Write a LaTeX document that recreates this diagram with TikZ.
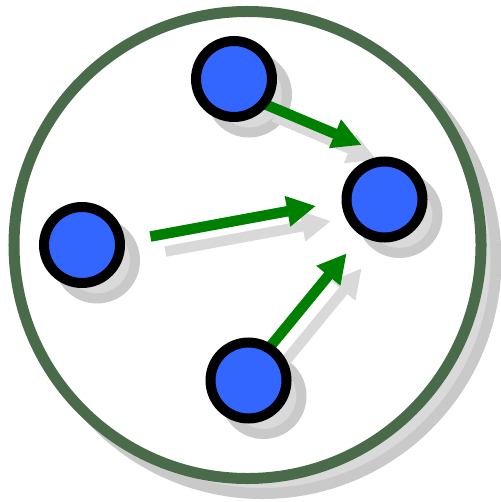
\documentclass[tikz,border=0pt]{standalone}
\usetikzlibrary{arrows.meta}
\definecolor{ringgreen}{HTML}{4A6B4A}
\definecolor{nodeblue}{HTML}{3366FF}
\definecolor{arrowgreen}{HTML}{008000}
\definecolor{shadowfill}{HTML}{D9D9D9}
\definecolor{shadowline}{HTML}{C9C9C9}
\pgfdeclarelayer{front}
\pgfsetlayers{main,front}
\begin{document}
\begin{tikzpicture}[x=1bp,y=-1bp,
  frame/.style={circle, draw=ringgreen, fill=white, line width=11bp, minimum size=467bp, inner sep=0pt},
  frameshadow/.style={circle, draw=shadowline, fill=shadowfill, line width=11bp, minimum size=467bp, inner sep=0pt},
  vertex/.style={circle, draw=black, fill=nodeblue, line width=10bp, minimum size=76bp, inner sep=0pt},
  vertexshadow/.style={circle, draw=shadowline, fill=shadowfill, line width=10bp, minimum size=76bp, inner sep=0pt},
  arr/.style={draw=arrowgreen, line width=10.5bp, -{Triangle[length=29bp,width=29bp]}},
  arrshadow/.style={draw=shadowfill, line width=10.5bp, -{Triangle[length=29bp,width=29bp]}},
]
\useasboundingbox (0,0) rectangle (501,502);
% frame
\node[frameshadow] (frameshadow) at (262.5,260) {};
\node[frame] (frame) at (247.5,245) {};
% node shadows
\node[vertexshadow] (shT) at (249,94.5) {};
\node[vertexshadow] (shL) at (97,260.5) {};
\node[vertexshadow] (shR) at (399.5,215) {};
\node[vertexshadow] (shB) at (263.5,396) {};
% vertices (front layer)
\begin{pgfonlayer}{front}
\node[vertex] (T) at (234,79) {};
\node[vertex] (L) at (82,245) {};
\node[vertex] (R) at (384.5,199.5) {};
\node[vertex] (B) at (248.5,380.5) {};
\end{pgfonlayer}
% arrow tips
\coordinate (t1) at (361.7,145);
\coordinate (t2) at (316,206);
\coordinate (t3) at (346.7,253.3);
% arrow shadows
\draw[arrshadow, shorten <=-10bp] ([shift={(15,15)}]T.-38) -- ([shift={(15,15)}]t1);
\draw[arrshadow, shorten <=26bp] ([shift={(15,15)}]L.5) -- ([shift={(15,15)}]t2);
\draw[arrshadow, shorten <=-6bp] ([shift={(15,15)}]B.57) -- ([shift={(15,15)}]t3);
% arrows
\draw[arr, shorten <=-10bp] (T.-38) -- (t1);
\draw[arr, shorten <=26bp] (L.5) -- (t2);
\draw[arr, shorten <=-6bp] (B.57) -- (t3);
\end{tikzpicture}
\end{document}
